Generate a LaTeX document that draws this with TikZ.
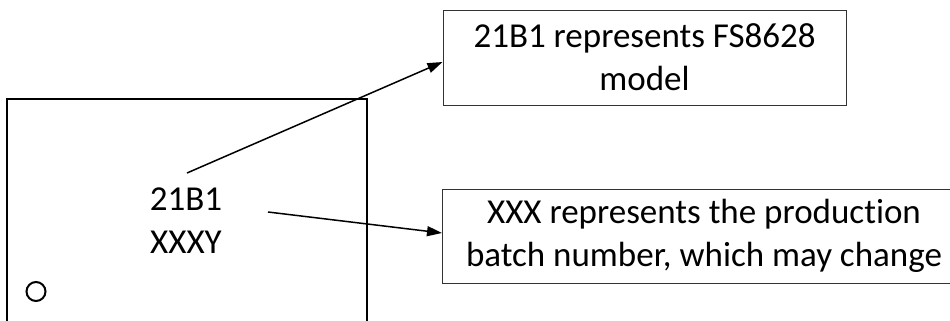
\documentclass[tikz,border=0pt]{standalone}
\usepackage{fontspec}
\setmainfont{Carlito}[Ligatures=NoCommon]
\usetikzlibrary{arrows.meta,calc}
\begin{document}
\begin{tikzpicture}[x=1pt,y=-1pt,
  txt/.style={font=\fontsize{35}{43}\selectfont, align=center, inner sep=0pt},
  callout/.style={draw=black!80, line width=1pt},
  pointer/.style={line width=1.5pt, -{Triangle[length=15pt,width=10pt]}}]
\useasboundingbox (0,0) rectangle (950,321);
\clip (0,0) rectangle (950,321);
\fill[white] (0,0) rectangle (950,321);
% chip outline (open at bottom)
\draw[line width=2.5pt] (7,330) |- (367,99) -- (367,330);
\node[draw, circle, line width=2pt, minimum size=19pt, inner sep=0pt] (dot) at (36,291.5) {};
\node[txt] (mark) at (186,221) {21B1\\XXXY};
% callout boxes
\node[callout, minimum width=403pt, minimum height=94pt, inner sep=0pt] (b1) at (644.5,58) {};
\node[txt] (t1) at (644.5,57) {21B1 represents FS8628\\model};
\node[callout, minimum width=540pt, minimum height=94pt, inner sep=0pt, anchor=west] (b2) at (442,236) {};
\node[txt] (t2) at (704,236) {XXX represents the production\\batch number, which may change};
% pointers
\coordinate (s1) at (187,173);
\coordinate (s2) at (268,212);
\draw[pointer] (s1) -- ($(b1.west)+(0,4)$);
\draw[pointer] (s2) -- ($(b2.west)+(0,-3)$);
\end{tikzpicture}
\end{document}
